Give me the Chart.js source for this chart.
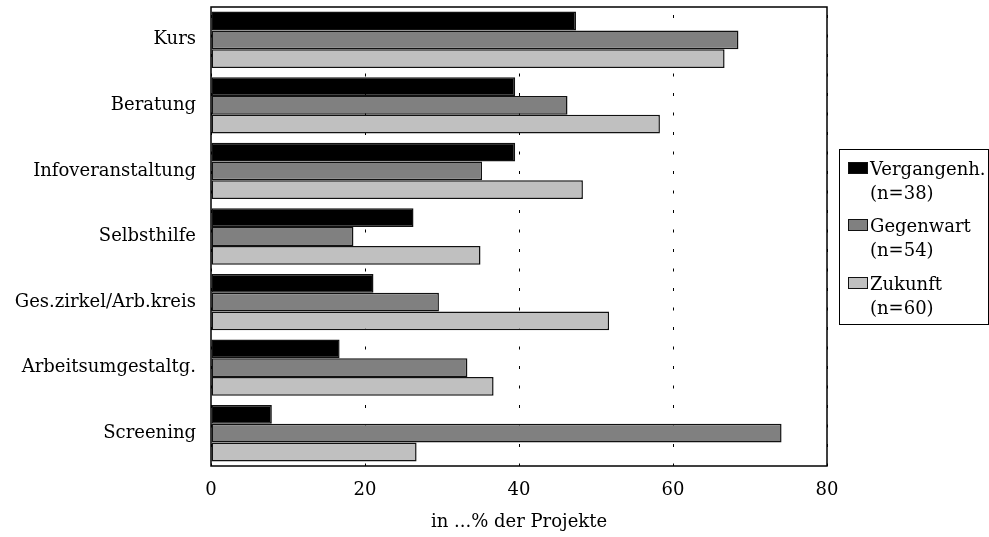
<!DOCTYPE html>
<html>
<head>
<meta charset="utf-8">
<script src="https://cdn.jsdelivr.net/npm/chart.js@4/dist/chart.umd.min.js"></script>
<style>
  html, body { margin: 0; padding: 0; background: #fff; }
  #wrap { position: relative; width: 989px; height: 537px; }
  #chart { position: absolute; left: 0; top: 0; }
  #legend {
    position: absolute; left: 839px; top: 149px; width: 150px; height: 176px;
    box-sizing: border-box; border: 1px solid #000; border-right-width: 1px;
    font-family: 'DejaVu Serif', serif; font-size: 18px; color: #000;
  }
  .item { position: absolute; left: 0; width: 150px; }
  .sw { position: absolute; left: 8px; width: 20px; height: 12px; box-sizing: border-box; border: 1px solid #111; }
  .txt { position: absolute; left: 30px; line-height: 24px; white-space: nowrap; }
</style>
</head>
<body>
<div id="wrap">
  <canvas id="chart" width="989" height="537"></canvas>
  <div id="legend"></div>
</div>
<script>
const categories = ['Kurs', 'Beratung', 'Infoveranstaltung', 'Selbsthilfe', 'Ges.zirkel/Arb.kreis', 'Arbeitsumgestaltg.', 'Screening'];
const seriesNames = [['Vergangenh.', '(n=38)'], ['Gegenwart', '(n=54)'], ['Zukunft', '(n=60)']];
const vergangenheit = [47.4, 39.5, 39.5, 26.3, 21.1, 16.7, 7.9];
const gegenwart = [68.5, 46.3, 35.2, 18.5, 29.6, 33.3, 74.1];
const zukunft = [66.7, 58.3, 48.3, 35.0, 51.7, 36.7, 26.7];
const xTicks = [0, 20, 40, 60, 80];
const xTitle = 'in ...% der Projekte';
const colors = ['#000000', '#808080', '#c0c0c0'];

const FONT = 'DejaVu Serif';

const framePlugin = {
  id: 'frame',
  afterDatasetsDraw(chart) {
    const a = chart.chartArea, ctx = chart.ctx;
    ctx.save();
    ctx.strokeStyle = '#000';
    ctx.lineWidth = 1.5;
    ctx.strokeRect(a.left, a.top, a.right - a.left, a.bottom - a.top);
    ctx.restore();
  }
};

const seriesData = [vergangenheit, gegenwart, zukunft];
new Chart(document.getElementById('chart'), {
  type: 'bar',
  data: {
    labels: categories,
    datasets: seriesData.map((d, i) => ({
      label: seriesNames[i].join(' '),
      data: d,
      backgroundColor: colors[i],
      borderColor: '#111',
      borderWidth: 1.5,
      borderSkipped: false,
      categoryPercentage: 0.86,
      barPercentage: 1.0
    }))
  },
  options: {
    indexAxis: 'y',
    responsive: false,
    devicePixelRatio: 1,
    animation: false,
    layout: { padding: { top: 7, right: 162, left: 0, bottom: 0 } },
    plugins: { legend: { display: false }, tooltip: { enabled: false } },
    scales: {
      x: {
        min: 0, max: 80,
        afterBuildTicks(s) { s.ticks = xTicks.map(v => ({ value: v })); },
        afterFit(s) { s.height = 71; },
        grid: { color: '#000', lineWidth: 1, drawTicks: false, borderDash: [3, 16.5] },
        border: { display: false, dash: [3, 16.5], dashOffset: -8 },
        ticks: { color: '#000', font: { family: FONT, size: 18 }, padding: 14, maxRotation: 0 },
        title: { display: true, text: xTitle, color: '#000', font: { family: FONT, size: 18 }, padding: { top: 0, bottom: 4 } }
      },
      y: {
        afterFit(s) { s.width = 211; s.paddingTop = 0; s.paddingBottom = 0; },
        grid: { display: false, drawTicks: false },
        border: { display: false },
        ticks: { color: '#000', font: { family: FONT, size: 18 }, padding: 15 }
      }
    }
  },
  plugins: [framePlugin]
});

// legend (HTML, real text)
const legend = document.getElementById('legend');
const itemTops = [7, 64, 122];
seriesNames.forEach((lines, i) => {
  const it = document.createElement('div');
  it.className = 'item';
  it.style.top = itemTops[i] + 'px';
  const sw = document.createElement('div');
  sw.className = 'sw';
  sw.style.top = '5px';
  sw.style.background = colors[i];
  it.appendChild(sw);
  const tx = document.createElement('div');
  tx.className = 'txt';
  tx.style.top = '0px';
  tx.innerHTML = lines[0] + '<br>' + lines[1];
  it.appendChild(tx);
  legend.appendChild(it);
});
</script>
</body>
</html>
